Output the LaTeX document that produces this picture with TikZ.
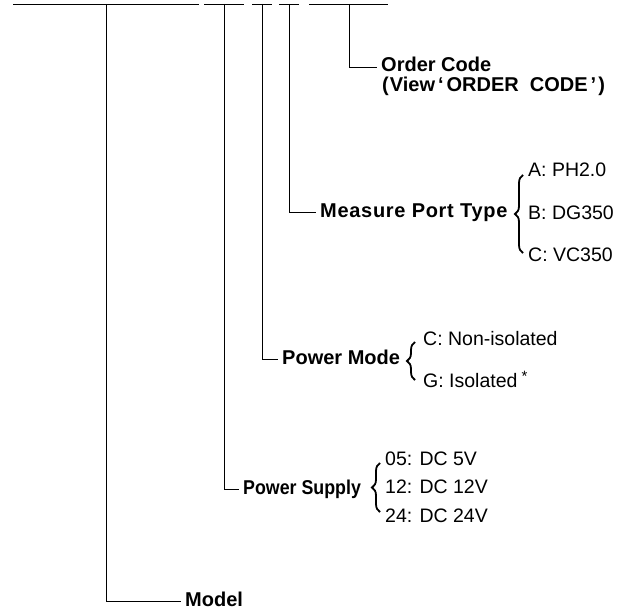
\documentclass[tikz,border=0pt]{standalone}
\usepackage{fontspec}
\setmainfont{Liberation Sans}
\usepackage{tikz}
\usetikzlibrary{positioning, decorations.pathreplacing}
\tikzset{
  lead/.style={draw=black, line width=0.9bp},
  field/.style={anchor=west, inner xsep=4bp, inner ysep=0pt, text height=14bp, text depth=4bp,
    font=\fontsize{20bp}{23bp}\selectfont\bfseries},
  option/.style={anchor=west, inner sep=0pt, text height=14bp, text depth=4bp,
    font=\fontsize{19.5bp}{23bp}\selectfont},
  curly/.style={draw=black, line width=1.8bp, decorate,
    decoration={brace, amplitude=8bp}},
}

\begin{document}
\begin{tikzpicture}[x=1bp, y=-1bp]
  \useasboundingbox (0,0) rectangle (634,612);

  % code row
  \draw[lead] (13,4) -- (199,4) (204,4) -- (244,4) (252,4) -- (272,4)
              (279,4) -- (299,4) (309,4) -- (388,4);
  \coordinate (cModel) at (106,4);
  \coordinate (cSupply) at (224,4);
  \coordinate (cMode) at (262,4);
  \coordinate (cPort) at (289,4);
  \coordinate (cOrder) at (349,4);

  % fields
  \node[field] (model) at (181,601) {Model};
  \node[field, font=\fontsize{20bp}{23bp}\selectfont\bfseries\addfontfeature{FakeStretch=0.89}] (supply) at (239,489) {Power Supply};
  \node[field] (mode) at (278,359) {Power Mode};
  \node[field, font=\fontsize{20bp}{23bp}\selectfont\bfseries\addfontfeature{LetterSpace=3.5}] (port) at (316,212) {Measure Port Type};
  \node[field] (order) at (377,67) {Order Code};
  \node[field, anchor=north west, inner xsep=0pt] (orderview) at ([xshift=5bp, yshift=-1bp]order.south west)
    {(\kern1bp View\kern3bp‘\kern3bp ORDER\ \ CODE\kern3bp’\kern2bp)};

  % options
  \node[option] (portA) at (528,172) {A: PH2.0};
  \node[option] (portB) at (528,214) {B: DG350};
  \node[option] (portC) at (528,256) {C: VC350};
  \draw[curly] ([xshift=-5bp, yshift=3bp]portC.west) -- ([xshift=-5bp, yshift=-3bp]portA.west);

  \node[option] (modeC) at (423,340) {C: Non-isolated};
  \node[option] (modeG) at (423,382)
    {G: Isolated\kern4bp\raisebox{6bp}{\fontsize{15bp}{15bp}\selectfont *}};
  \draw[curly] ([xshift=-8bp, yshift=2bp]modeG.west) -- ([xshift=-8bp, yshift=-2bp]modeC.west);

  \node[option] (supply05) at (385,460) {05: DC 5V};
  \node[option] (supply12) at (385,488) {12: DC 12V};
  \node[option] (supply24) at (385,517) {24: DC 24V};
  \draw[curly] ([xshift=-5bp, yshift=5bp]supply24.west) -- ([xshift=-5bp, yshift=-3bp]supply05.west);

  % leads
  \draw[lead] (cModel) |- (model.west);
  \draw[lead] (cSupply) |- (supply.west);
  \draw[lead] (cMode) |- (mode.west);
  \draw[lead] (cPort) |- (port.west);
  \draw[lead] (cOrder) |- (order.west);
\end{tikzpicture}
\end{document}
